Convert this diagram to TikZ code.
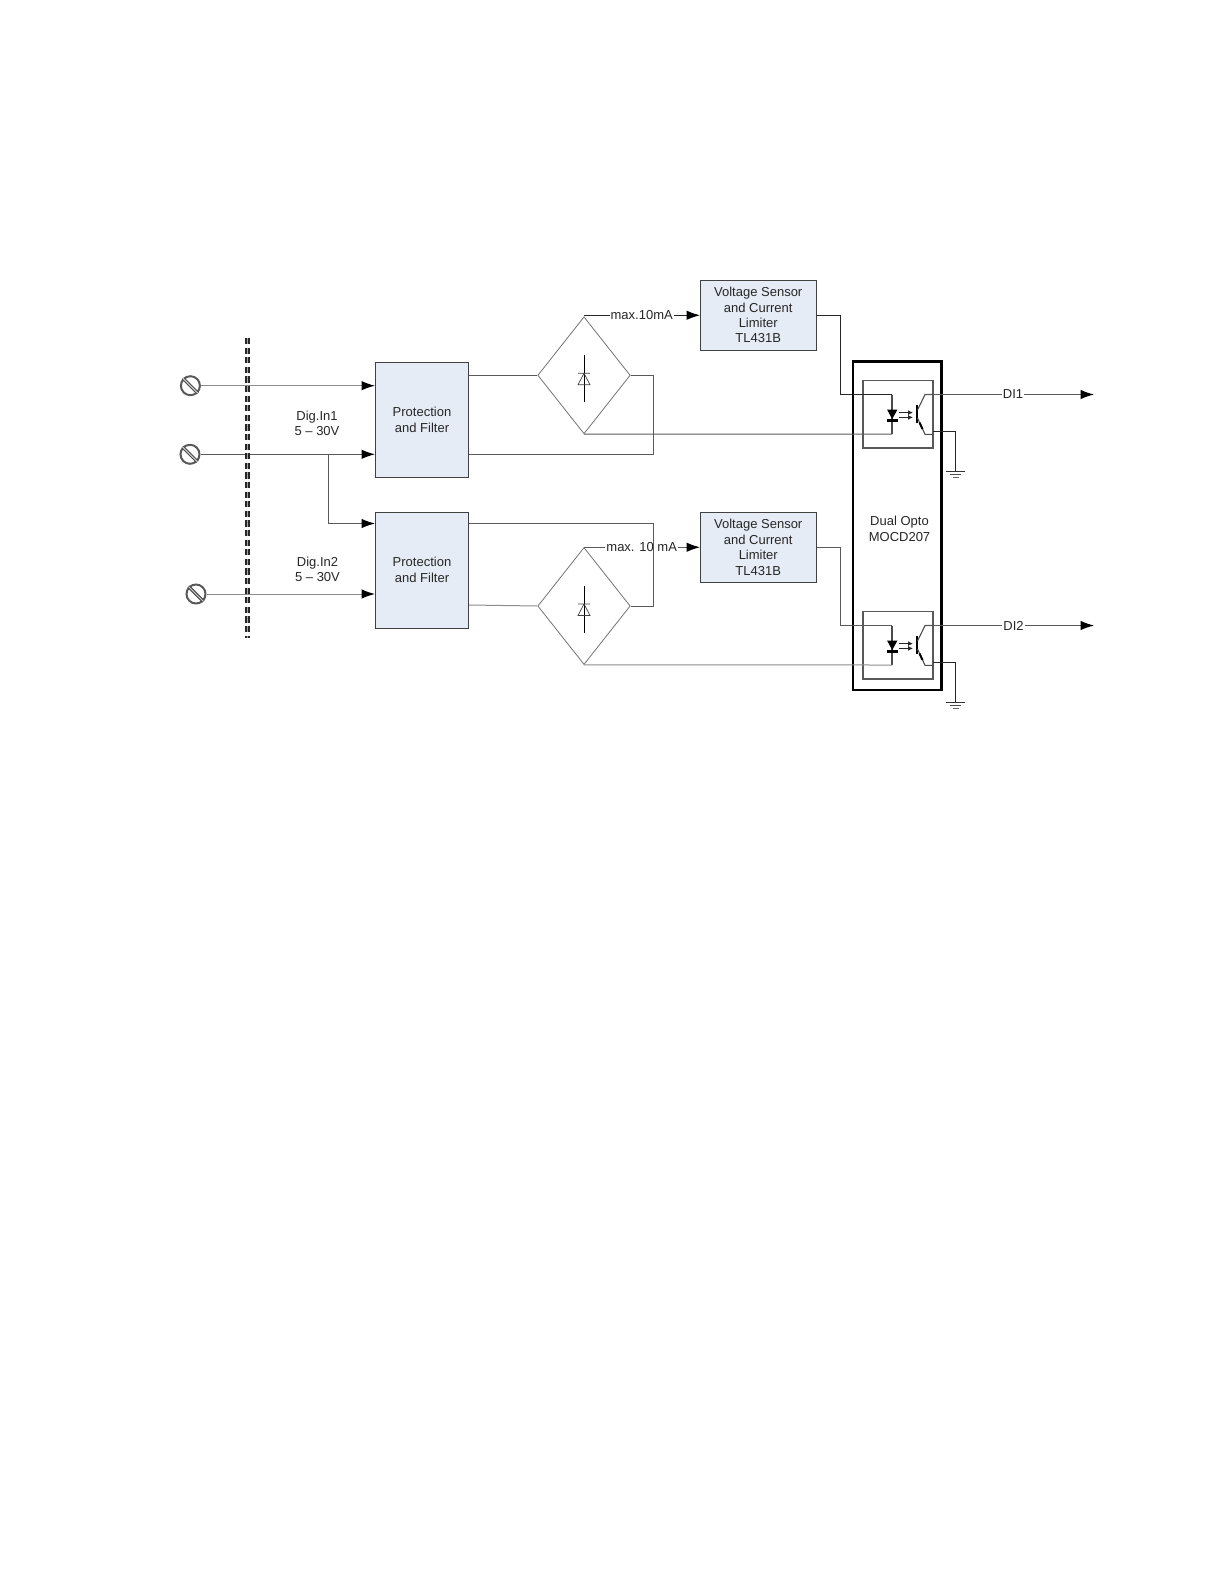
\documentclass[tikz,border=0pt]{standalone}
\usepackage{fontspec}
\setmainfont{Liberation Sans}
\usetikzlibrary{arrows.meta,shapes.geometric,calc}
\definecolor{boxfill}{HTML}{E6ECF6}
\definecolor{wirecol}{HTML}{5A5A5A}
\definecolor{edgecol}{HTML}{404040}
\tikzset{
  txt/.style={font=\fontsize{13}{15.4}\selectfont,align=center,text=black!85,inner sep=0pt},
  block/.style={draw=edgecol,line width=1pt,fill=boxfill,txt},
  wire/.style={draw=wirecol,line width=1pt},
  lightwire/.style={draw=black!45,line width=1pt},
  dark/.style={draw=black!85,line width=1pt},
  tip/.style={-{Latex[length=13.5pt,width=9.5pt,black]}},
  bridge/.style={diamond,draw=black!55,line width=.8pt,inner sep=0pt,minimum width=92.5pt,minimum height=117pt},
  terminal/.style={circle,draw=black!65,line width=2pt,minimum size=19pt,inner sep=0pt,fill=white},
  label/.style={txt,fill=white,inner xsep=1pt,inner ysep=0pt},
  opto/.pic={
    \node[draw=black!65,line width=1.3pt,minimum width=70pt,minimum height=67.5pt,inner sep=0pt] (-box) at (898,414.25) {};
    \coordinate (-a) at (892,394.5);
    \coordinate (-k) at (892,434);
    \coordinate (-c) at (925,394.5);
    \coordinate (-e) at (925,434.3);
    \coordinate (-o) at (933,431);
    \draw[draw=black!70,line width=1.1pt] (-a) -- (-k);
    \fill[black] (887,409.5) -- (897.5,409.5) -- (892.2,419) -- cycle;
    \fill[black] (886.8,419.3) rectangle (898,421.8);
    \draw[black!85,line width=1.2pt,-{Latex[length=5pt,width=5pt]}] (899,412.6) -- (913,412.6);
    \draw[black!85,line width=1.2pt,-{Latex[length=5pt,width=5pt]}] (899,417.4) -- (913,417.4);
    \draw[black,line width=1.8pt] (917,405) -- (917,423);
    \draw[black!70,line width=1.1pt] (917.5,410) -- (-c) -- (-o |- -c);
    \draw[black!70,line width=1.1pt] (917.5,418) -- (-e) -- (-o |- -e);
    \draw[black,line width=2pt] (919.5,422.5) -- (922.5,429);
    \draw[dark] (-o) -| (955.5,471.6);
    \draw[black!80,line width=.9pt] (946,471.6) -- (965,471.6);
    \draw[black!70,line width=.8pt] (950,474.8) -- (961,474.8);
    \draw[black!60,line width=.8pt] (952.5,477.8) -- (958.5,477.8);
  },
  diode/.pic={
    \draw[black,line width=1pt] (584,-20) -- (584,27);
    \draw[black!75,line width=.7pt] (578,-2) -- (590,-2) -- (584,-2) -- (578,9.5) -- (590,9.5) -- (584,-2);
  }
}
\begin{document}
\begin{tikzpicture}[x=1pt,y=-1pt]
\useasboundingbox (0,0) rectangle (1224,1584);
% outer opto package
\node[draw=black,line width=2.6pt,minimum width=88.5pt,minimum height=328.5pt,inner sep=0pt,txt] (pkg) at (897.25,525.75) {};
\node[txt] (pkgtxt) at (899.5,529) {Dual Opto\\MOCD207};
% terminals
\node[terminal] (t1) at (190.4,385.7) {};
\node[terminal] (t2) at (190,454.3) {};
\node[terminal] (t3) at (196,594) {};
% protection blocks
\node[block,minimum width=93pt,minimum height=114.5pt] (p1) at (422,419.75) {Protection\\and Filter};
\node[block,minimum width=93pt,minimum height=116pt] (p2) at (422,570) {Protection\\and Filter};
% bridges
\node[bridge] (b1) at (584,375.3) {};
\node[bridge] (b2) at (584,606) {};
\pic at (0,375.3) {diode};
\pic at (0,606) {diode};
% sensors
\node[block,minimum width=115.5pt,minimum height=69.5pt] (v1) at (758.25,315.25) {Voltage Sensor\\and Current\\Limiter\\TL431B};
\node[block,minimum width=115.5pt,minimum height=69.5pt] (v2) at (758.25,547.25) {Voltage Sensor\\and Current\\Limiter\\TL431B};
% optos
\pic (o1) at (0,0) {opto};
\pic (o2) at (0,231) {opto};
% named free points
\coordinate (d1) at (1094,394.5);
\coordinate (d2) at (1094,625.5);
\coordinate (j) at (328.5,454.5);
\coordinate (r1) at (653.5,375.3);
\coordinate (r2) at (653.5,606);
% input wires
\draw[lightwire,tip] (t1.east) -- (t1.east -| p1.west);
\draw[wire,tip] (t2.east) -- (t2.east -| p1.west);
\draw[wire,tip] (j) |- ($(p2.west)+(0,-46.5)$);
\draw[lightwire,tip] (t3.east) -- (t3.east -| p2.west);
% block to bridge
\draw[wire] (p1.east |- b1.west) -- (b1.west);
\draw[wire] (b1.east) -- (r1) |- ($(p1.east)+(0,34.75)$);
\draw[lightwire] ($(p2.east)+(0,35)$) -- (b2.west);
% bridge to sensor
\draw[dark,tip] (b1.north) -- (b1.north |- v1.west) -- (v1.west);
\node[label] (m1) at (641.7,315.3) {max.10mA};
\draw[wire,tip] (b2.north) -- (b2.north |- v2.west) -- (v2.west);
\node[label] (m2) at (641.7,547.3) {max. 10 mA};
\draw[wire] (b2.east) -- (r2) |- ($(p2.east)+(0,-46.5)$);
% sensor to opto
\draw[dark] (v1.east) -| (840,394.5) -- (o1-a);
\draw[wire] (v2.east) -| (840,625.5) -- (o2-a);
\draw[wire] (b1.south) -- (o1-k);
\draw[lightwire] (b2.south) -- (o2-k);
% outputs
\draw[wire,tip] (o1-c) -- (d1);
\draw[wire,tip] (o2-c) -- (d2);
\node[label] (l1) at (1013,394.5) {DI1};
\node[label] (l2) at (1013.5,625.5) {DI2};
% labels
\node[txt] (dig1) at (317,423.5) {Dig.In1\\5 – 30V};
\node[txt] (dig2) at (317.5,569.5) {Dig.In2\\5 – 30V};
% terminal slashes
\foreach \n in {t1,t2,t3} {
  \draw[black!70,line width=3.2pt] (\n.135) -- (\n.-45);
  \draw[white!80!black,line width=1pt] (\n.135) -- (\n.-45);
}
% isolation barrier
\draw[black!85,line width=5pt,dash pattern=on 6.2pt off 3.4pt] (247,338) -- (247,638);
\draw[black!35,line width=.8pt,dash pattern=on 6.2pt off 3.4pt] (247,338) -- (247,638);
\end{tikzpicture}
\end{document}
